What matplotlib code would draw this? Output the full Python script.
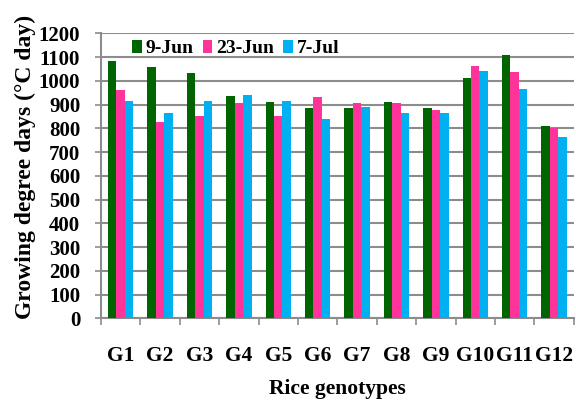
import numpy as np
import matplotlib.pyplot as plt

genotypes = ['G1', 'G2', 'G3', 'G4', 'G5', 'G6', 'G7', 'G8', 'G9', 'G10', 'G11', 'G12']
jun9 = [1083, 1057, 1032, 936, 912, 885, 885, 912, 885, 1010, 1108, 808]
jun23 = [960, 826, 851, 906, 851, 932, 906, 906, 878, 1061, 1036, 800]
jul7 = [915, 864, 915, 940, 915, 839, 890, 864, 864, 1040, 965, 762]
series_names = ['9-Jun', '23-Jun', '7-Jul']
colors = ['#006400', '#FF3399', '#00B0F0']

plt.rcParams['font.family'] = ['Liberation Serif', 'DejaVu Serif']
plt.rcParams['font.weight'] = 'bold'

fig = plt.figure(figsize=(5.76, 4.03), dpi=100)
ax = fig.add_axes([0.1753, 0.2102, 0.8207, 0.7072])

x = np.arange(len(genotypes))
w = 0.215
for k, (vals, name, c) in enumerate(zip([jun9, jun23, jul7], series_names, colors)):
    ax.bar(x + (k - 1) * w, vals, w, color=c, label=name, zorder=3)

ax.set_xlim(-0.5, len(genotypes) - 0.5)
ax.set_ylim(0, 1200)
ax.set_yticks(np.arange(0, 1201, 100))
ax.yaxis.grid(True, color='#8c8c8c', linewidth=1.5, zorder=0)

ax.set_xticks(x)
ax.set_xticklabels(genotypes, fontsize=15.5, fontweight='bold')
ax.set_xticks(np.arange(-0.5, len(genotypes)), minor=True)
ax.tick_params(axis='x', which='major', length=0, pad=20)
ax.tick_params(axis='x', which='minor', length=5, width=1.2, color='#8c8c8c')
ax.tick_params(axis='y', length=4, width=1.2, color='#8c8c8c', labelsize=15, pad=11)
for lab in ax.get_yticklabels():
    lab.set_fontweight('bold')

for s in ['top', 'right']:
    ax.spines[s].set_visible(False)
for s in ['left', 'bottom']:
    ax.spines[s].set_color('#8c8c8c')
    ax.spines[s].set_linewidth(1.5)

ax.set_ylabel('Growing degree days (°C day)', fontsize=17, fontweight='bold')
ax.yaxis.set_label_coords(-0.137, 0.53)
ax.set_xlabel('Rice genotypes', fontsize=15.5, fontweight='bold', labelpad=9)

ax.legend(loc='upper left', bbox_to_anchor=(0.05, 1.005), ncol=3, frameon=False,
          prop={'size': 14, 'weight': 'bold'}, handlelength=0.5, handleheight=0.7,
          handletextpad=0.2, columnspacing=0.45, borderaxespad=0)

fig.savefig('out.png', dpi=100)
